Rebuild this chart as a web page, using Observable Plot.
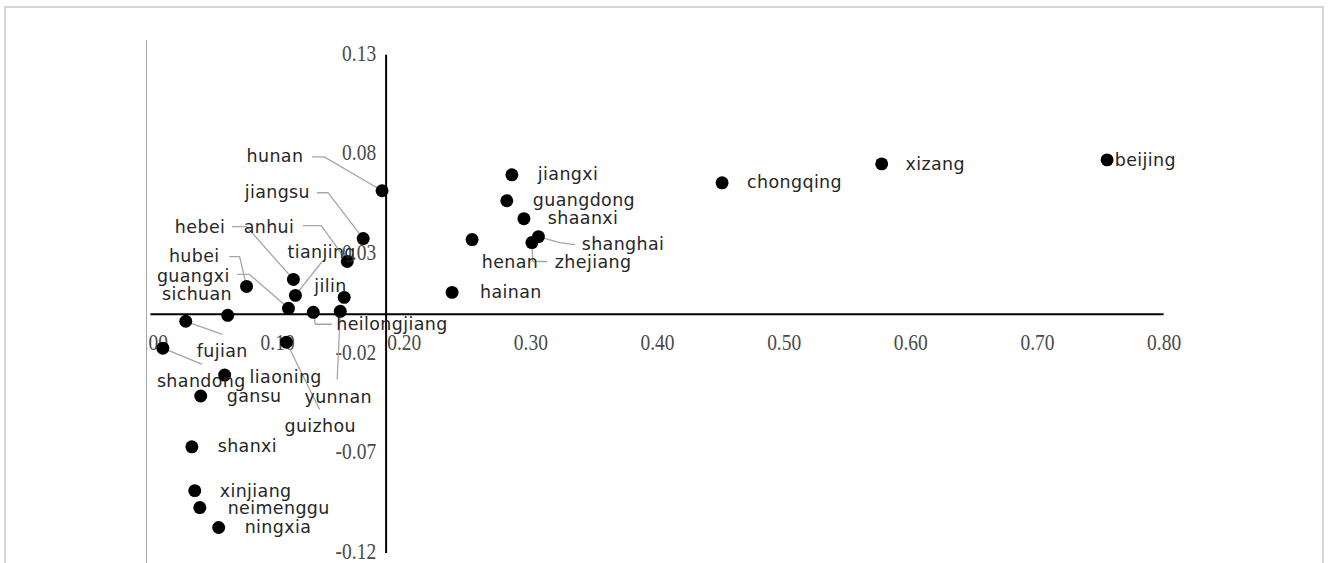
<!DOCTYPE html>
<html><head><meta charset="utf-8">
<script src="https://cdn.jsdelivr.net/npm/d3@7"></script>
<script src="https://cdn.jsdelivr.net/npm/@observablehq/plot@0.6"></script>
<style>
html,body{margin:0;padding:0;background:#fff;width:1328px;height:563px;overflow:hidden;}
#frame{position:absolute;left:4px;top:6px;width:1320px;height:600px;border:2px solid #d6d6d6;border-bottom:none;box-sizing:border-box;}
#clip{position:absolute;left:146px;top:40px;width:1176px;height:523px;border-left:1px solid #a8a8a8;overflow:hidden;}
#chart{position:absolute;left:-147px;top:-40px;}
</style></head><body>
<div id="frame"></div>
<div id="clip"><div id="chart"></div></div>
<script>
// Provinces and their (x, y) coordinates
const provinces = ["beijing","xizang","chongqing","jiangxi","guangdong","shaanxi","shanghai","zhejiang","henan","hainan",
  "hunan","jiangsu","anhui","hebei","tianjing","hubei","guangxi","sichuan","fujian","heilongjiang",
  "jilin","yunnan","shandong","guizhou","liaoning","gansu","shanxi","xinjiang","neimenggu","ningxia"];
const xValues = [0.755,0.577,0.451,0.285,0.281,0.2945,0.306,0.3008,0.2536,0.2378,
  0.1825,0.1676,0.1550,0.1125,0.1141,0.0755,0.1086,0.0606,0.0275,0.1282,
  0.1526,0.1495,0.0094,0.1070,0.0582,0.0393,0.0323,0.0346,0.0386,0.0535];
const yValues = [0.0775,0.0755,0.066,0.070,0.057,0.048,0.039,0.036,0.0375,0.011,
  0.062,0.038,0.0265,0.0175,0.0095,0.014,0.003,-0.0005,-0.0035,0.001,
  0.0085,0.0015,-0.017,-0.014,-0.0305,-0.041,-0.0665,-0.0885,-0.097,-0.107];
// Data-label anchor positions (start of text), in data units
const labelX = [0.7610,0.5958,0.4707,0.3055,0.3015,0.3134,0.3401,0.3189,0.2612,0.2599,
  0.0755,0.0740,0.0732,0.0189,0.1078,0.0142,0.0047,0.0087,0.0362,0.1463,
  0.1290,0.1212,0.0047,0.1054,0.0779,0.0598,0.0527,0.0543,0.0606,0.0740];
const labelY = [0.077,0.075,0.066,0.070,0.057,0.048,0.035,0.026,0.026,0.011,
  0.079,0.061,0.0435,0.0435,0.031,0.029,0.019,0.010,-0.0185,-0.005,
  0.014,-0.0415,-0.0335,-0.0565,-0.0315,-0.041,-0.0665,-0.089,-0.0975,-0.107];
// Leader lines: label end -> elbow -> point
const leaderNames = ["hunan","jiangsu","hebei","anhui","tianjing","hubei","guangxi","heilongjiang","fujian","shandong","guizhou","yunnan","zhejiang","shanghai"];
const leaderX1 = [0.1275,0.1314,0.0645,0.1204,0.1345,0.0622,0.0684,0.1424,0.0559,0.0401,0.1330,0.1471,0.3126,0.3346];
const leaderY1 = [0.079,0.061,0.044,0.0445,0.026,0.029,0.020,-0.005,-0.010,-0.025,-0.0475,-0.0325,0.0265,0.035];
const leaderX2 = [0.1369,0.1400,0.0755,0.1345,0.1345,0.0700,0.0779,0.1298,0.0559,0.0401,0.1330,0.1471,0.3015,0.3228];
const leaderY2 = [0.079,0.061,0.044,0.0445,0.026,0.029,0.020,-0.005,-0.010,-0.025,-0.0475,-0.0325,0.0265,0.036];
// Axes
const xTicks = [0,0.1,0.2,0.3,0.4,0.5,0.6,0.7,0.8];
const xTickLabels = ["0.00","0.10","0.20","0.30","0.40","0.50","0.60","0.70","0.80"];
const yTicks = [0.13,0.08,0.03,-0.02,-0.07,-0.12];
const yTickLabels = ["0.13","0.08","0.03","-0.02","-0.07","-0.12"];
const yAxisCross = 0.1857;

const points = provinces.map((p,i)=>({name:p,x:xValues[i],y:yValues[i],lx:labelX[i],ly:labelY[i]}));
const leaderPaths = [];
leaderNames.forEach((n,i)=>{
  const p = points.find(d=>d.name===n);
  leaderPaths.push({name:n,x:leaderX1[i],y:leaderY1[i]},{name:n,x:leaderX2[i],y:leaderY2[i]},{name:n,x:p.x,y:p.y});
});

const tickFont = "Liberation Serif";
const chart = Plot.plot({
  width:1328, height:563,
  marginLeft:151, marginRight:160, marginTop:55, marginBottom:8,
  x:{domain:[0,0.8], axis:null},
  y:{domain:[-0.12,0.13], axis:null},
  style:{background:"transparent", overflow:"visible"},
  marks:[
    Plot.ruleY([0],{x1:()=>0,x2:()=>0.8,stroke:"#000",strokeWidth:2}),
    Plot.ruleX([yAxisCross],{y1:()=>-0.12,y2:()=>0.13,stroke:"#000",strokeWidth:2}),
    Plot.text(xTicks,{x:d=>d,y:()=>0,text:(d,i)=>xTickLabels[i],dy:28,fontFamily:tickFont,fontSize:23,fill:"#4a4a4a"}),
    Plot.text(yTicks,{x:()=>yAxisCross,y:d=>d,text:(d,i)=>yTickLabels[i],dx:-10,dy:-2,textAnchor:"end",fontFamily:tickFont,fontSize:23,fill:"#4a4a4a"}),
    Plot.line(leaderPaths,{x:"x",y:"y",z:"name",stroke:"#a6a6a6",strokeWidth:1.3}),
    Plot.dot(points,{x:"x",y:"y",r:6.5,fill:"#000",stroke:"none"}),
    Plot.text(points,{x:"lx",y:"ly",text:"name",textAnchor:"start",fontFamily:"DejaVu Sans",fontSize:17.5,fill:"#262626"})
  ]
});
// condense the serif tick labels horizontally, and space out the point labels
d3.select(chart).selectAll("g").filter(function(){ return this.getAttribute("font-family") === tickFont; })
  .selectAll("text").each(function(){
    const t = this.getAttribute("transform") || "";
    const x = this.getAttribute("x"), y = this.getAttribute("y");
    if (t) this.setAttribute("transform", t + " scale(0.85,1)");
    else this.setAttribute("transform", `translate(${x||0},${y||0}) scale(0.85,1) translate(${-(x||0)},${-(y||0)})`);
  });
d3.select(chart).selectAll("g").filter(function(){ return this.getAttribute("font-family") === "DejaVu Sans"; })
  .selectAll("text").style("letter-spacing","0.4px");
document.getElementById("chart").appendChild(chart);
</script></body></html>
